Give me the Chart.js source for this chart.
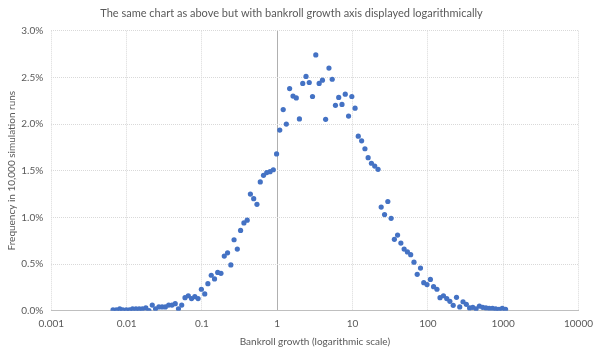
<!DOCTYPE html>
<html>
<head>
<meta charset="utf-8">
<script src="https://cdn.jsdelivr.net/npm/chart.js@4"></script>
<style>
  html, body { margin: 0; padding: 0; background: #ffffff; }
  #wrap { width: 600px; height: 354px; }
</style>
</head>
<body>
<div id="wrap"><canvas id="myChart"></canvas></div>
<script>
'use strict';

// bankroll growth (x, log scale) - bins
let growthValues = [
  0.0066, 0.0073, 0.0081, 0.0089, 0.0099, 0.0109, 0.0120, 0.0133, 0.0147, 0.0162,
  0.0180, 0.0198, 0.0219, 0.0242, 0.0268, 0.0296, 0.0327, 0.0362, 0.0400, 0.0442,
  0.0488, 0.0539, 0.0596, 0.0659, 0.0728, 0.0805, 0.0889, 0.0983, 0.109, 0.120,
  0.133, 0.147, 0.162, 0.179, 0.198, 0.219, 0.242, 0.267, 0.295, 0.326,
  0.361, 0.399, 0.440, 0.487, 0.538, 0.595, 0.657, 0.726, 0.803, 0.887,
  0.980, 1.08, 1.20, 1.32, 1.46, 1.62, 1.79, 1.97, 2.18, 2.41,
  2.66, 2.94, 3.25, 3.60, 3.98, 4.39, 4.86, 5.37, 5.93, 6.55,
  7.24, 8.00, 8.85, 9.78, 10.8, 11.9, 13.2, 14.6, 16.1, 17.8,
  19.7, 21.8, 24.0, 26.6, 29.4, 32.5, 35.9, 39.6, 43.8, 48.4,
  53.5, 59.1, 65.4, 72.2, 79.8, 88.2, 97.5, 108, 119, 132,
  145, 161, 178, 196, 217, 240, 265, 293, 324, 358,
  395, 437, 483, 534, 590, 652, 721, 796, 880, 973,
  1075
];

// frequency in % of 10,000 runs
let frequencyValues = [
  0.01, 0.01, 0.02, 0.01, 0.01, 0.01, 0.02, 0.02, 0.02, 0.02,
  0.03, 0.00, 0.06, 0.02, 0.04, 0.04, 0.04, 0.06, 0.06, 0.075,
  0.02, 0.06, 0.14, 0.16, 0.13, 0.15, 0.13, 0.23, 0.18, 0.29,
  0.38, 0.34, 0.41, 0.40, 0.585, 0.62, 0.49, 0.76, 0.66, 0.86,
  0.94, 0.97, 1.25, 1.20, 1.14, 1.38, 1.45, 1.48, 1.49, 1.51,
  1.68, 1.935, 2.155, 2.00, 2.38, 2.30, 2.28, 2.055, 2.435, 2.51,
  2.445, 2.295, 2.74, 2.435, 2.47, 2.05, 2.60, 2.48, 2.20, 2.285,
  2.21, 2.32, 2.085, 2.295, 2.17, 1.87, 1.82, 1.735, 1.64, 1.58,
  1.55, 1.515, 1.11, 1.03, 1.17, 0.99, 0.765, 0.81, 0.725, 0.66,
  0.63, 0.60, 0.52, 0.39, 0.457, 0.30, 0.28, 0.335, 0.257, 0.23,
  0.14, 0.16, 0.13, 0.10, 0.058, 0.143, 0.04, 0.096, 0.068, 0.03,
  0.036, 0.02, 0.05, 0.036, 0.03, 0.026, 0.026, 0.02, 0.015, 0.026,
  0.015
];

let xTickValues = [0.001, 0.01, 0.1, 1, 10, 100, 1000, 10000];
let yTickMin = 0;
let yTickMax = 3.0;
let yTickStep = 0.5;

let textColor = '#595959';
let gridColor = '#d9d9d9';
let axisColor = '#bfbfbf';
let fontName = 'Lato, "Open Sans", sans-serif';

function buildPoints() {
  let points = [];
  for (let i = 0; i < growthValues.length; i++) {
    points.push({ x: growthValues[i], y: frequencyValues[i] });
  }
  return points;
}

const ctx = document.getElementById('myChart');

let config = {
  type: 'scatter',
  data: {
    datasets: [
      {
        label: 'Frequency',
        data: buildPoints(),
        backgroundColor: '#4472c4',
        borderColor: '#4472c4',
        pointRadius: 2.6,
        pointBorderWidth: 0
      }
    ]
  },
  options: {
    responsive: true,
    maintainAspectRatio: false,
    animation: false,
    layout: {
      padding: { left: 0, right: 17, top: 0, bottom: 0 }
    },
    plugins: {
      legend: { display: false },
      tooltip: { enabled: false },
      title: {
        display: true,
        text: 'The same chart as above but with bankroll growth axis displayed logarithmically',
        color: textColor,
        font: { family: fontName, size: 11, weight: 'normal' },
        padding: { top: 6.5, bottom: 11 }
      }
    },
    scales: {
      x: {
        type: 'logarithmic',
        min: 0.001,
        max: 10000,
        afterBuildTicks: function (scale) {
          scale.ticks = xTickValues.map(function (v) { return { value: v }; });
        },
        afterFit: function (scale) {
          scale.height = 43.3;
        },
        ticks: {
          color: textColor,
          font: { family: fontName, size: 10 },
          padding: 7,
          autoSkip: false,
          maxRotation: 0,
          callback: function (value) {
            return String(value);
          }
        },
        grid: {
          drawTicks: false,
          lineWidth: 1,
          color: function (c) {
            if (c.tick && c.tick.value === 1) {
              return '#b0b0b0';
            }
            return gridColor;
          }
        },
        border: {
          display: true,
          color: axisColor,
          width: 1,
          dash: function (c) {
            if (c.tick && c.tick.value === 1) {
              return [];
            }
            return [1, 1];
          }
        },
        title: {
          display: true,
          text: 'Bankroll growth (logarithmic scale)',
          color: textColor,
          font: { family: fontName, size: 10 },
          padding: { top: 0, bottom: 6.4 }
        }
      },
      y: {
        min: yTickMin,
        max: yTickMax,
        afterFit: function (scale) {
          scale.width = 51.3;
        },
        ticks: {
          stepSize: yTickStep,
          color: textColor,
          font: { family: fontName, size: 10 },
          padding: 8,
          callback: function (value) {
            return value.toFixed(1) + '%';
          }
        },
        grid: {
          drawTicks: false,
          lineWidth: 1,
          color: function (c) {
            if (c.tick && c.tick.value === 0) {
              return axisColor;
            }
            return gridColor;
          }
        },
        border: {
          display: false,
          dash: function (c) {
            if (c.tick && c.tick.value === 0) {
              return [];
            }
            return [1, 1];
          }
        },
        title: {
          display: true,
          text: 'Frequency in 10,000 simulation runs',
          color: textColor,
          font: { family: fontName, size: 10 },
          padding: { top: 5.4, bottom: 0 }
        }
      }
    }
  }
};

new Chart(ctx, config);
</script>
</body>
</html>
